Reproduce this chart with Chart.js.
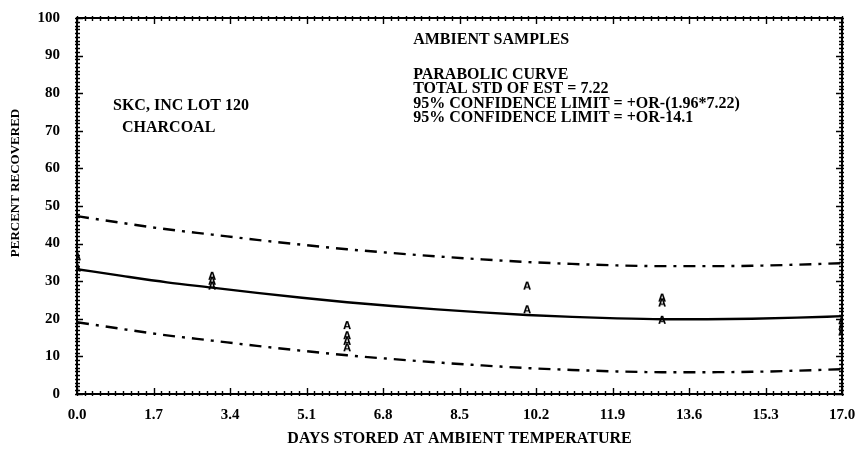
<!DOCTYPE html>
<html>
<head>
<meta charset="utf-8">
<script src="https://cdn.jsdelivr.net/npm/chart.js@4/dist/chart.umd.min.js"></script>
<style>
  html, body { margin: 0; padding: 0; background: #fff; }
  #wrap { width: 861px; height: 453px; }
</style>
</head>
<body>
<div id="wrap"><canvas id="c" width="861" height="453"></canvas></div>
<script>
// Days stored and the fitted parabolic recovery curve
const curveDays      = [0, 1, 2, 3, 4, 5, 6, 7, 8, 9, 10, 11, 12, 13, 14, 15, 16, 17];
const fittedRecovery = [33.2, 31.4, 29.7, 28.3, 26.9, 25.6, 24.4, 23.4, 22.5, 21.7, 21.0, 20.5, 20.1, 19.9, 19.9, 20.0, 20.3, 20.7];
// 95% confidence limits (fit +/- 14.1)
const upperLimit     = [47.3, 45.5, 43.8, 42.4, 41.0, 39.7, 38.5, 37.5, 36.6, 35.8, 35.1, 34.6, 34.2, 34.0, 34.0, 34.1, 34.4, 34.8];
const lowerLimit     = [19.1, 17.3, 15.6, 14.2, 12.8, 11.5, 10.3, 9.3, 8.4, 7.6, 6.9, 6.4, 6.0, 5.8, 5.8, 5.9, 6.2, 6.6];
// Individual ambient samples
const sampleDays     = [0, 0, 3, 3, 3, 6, 6, 6, 6, 10, 10, 13, 13, 13, 17, 17, 17];
const sampleRecovery = [36.5, 33.5, 31.3, 30.0, 28.7, 18.2, 15.5, 14.0, 12.3, 28.7, 22.4, 25.5, 24.2, 19.6, 19.5, 18.0, 16.5];
// Axis tick labels
const xTickValues = [0, 1.7, 3.4, 5.1, 6.8, 8.5, 10.2, 11.9, 13.6, 15.3, 17.0];
const yTickValues = [0, 10, 20, 30, 40, 50, 60, 70, 80, 90, 100];
// Text blocks inside the plot
const sampleNote  = ['SKC, INC LOT 120', 'CHARCOAL'];
const titleNote   = ['AMBIENT SAMPLES'];
const fitNote     = ['PARABOLIC CURVE', 'TOTAL STD OF EST = 7.22', '95% CONFIDENCE LIMIT = +OR-(1.96*7.22)', '95% CONFIDENCE LIMIT = +OR-14.1'];
const xTitle = 'DAYS STORED AT AMBIENT TEMPERATURE';
const yTitle = 'PERCENT RECOVERED';

const SERIF = '"Liberation Serif", "Times New Roman", serif';
const INK = '#000';

// Small letter "A" used as the sample marker
function letterMarker() {
  const c = document.createElement('canvas');
  c.width = 10; c.height = 11;
  const g = c.getContext('2d');
  g.fillStyle = INK;
  g.font = 'bold 10px "DejaVu Sans", sans-serif';
  g.textAlign = 'center';
  g.textBaseline = 'middle';
  g.fillText('A', 5, 6);
  return c;
}

const toXY = (xs, ys) => xs.map((x, i) => ({ x, y: ys[i] }));

// Frame, ticks, axis title and notes
const decorations = {
  id: 'decorations',
  afterDraw(chart) {
    const { ctx, chartArea: a, scales: { x, y } } = chart;
    ctx.save();
    ctx.strokeStyle = INK;
    ctx.lineWidth = 2;
    ctx.strokeRect(a.left, a.top, a.right - a.left, a.bottom - a.top);

    ctx.lineWidth = 1.4;
    ctx.beginPath();
    for (let v = 0; v <= 100; v += 1) {
      const py = Math.round(y.getPixelForValue(v)) + 0.5;
      const major = v % 10 === 0;
      const len = major ? 6 : 3;
      ctx.moveTo(a.left - 2, py); ctx.lineTo(a.left + len, py);
      ctx.moveTo(a.right + 2, py); ctx.lineTo(a.right - len, py);
    }
    for (let k = 0; k <= 100; k++) {
      const v = k * 0.17;
      const px = Math.round(x.getPixelForValue(v)) + 0.5;
      const major = k % 10 === 0;
      const len = major ? 6 : 3;
      ctx.moveTo(px, a.bottom + 2); ctx.lineTo(px, a.bottom - len);
      ctx.moveTo(px, a.top - 2); ctx.lineTo(px, a.top + len);
    }
    ctx.stroke();

    ctx.fillStyle = INK;
    // y-axis title
    ctx.save();
    ctx.translate(16, 183);
    ctx.rotate(-Math.PI / 2);
    ctx.font = 'bold 13px ' + SERIF;
    ctx.textAlign = 'center';
    ctx.textBaseline = 'middle';
    ctx.fillText(yTitle, 0, 0);
    ctx.restore();

    // notes, anchored in data units
    ctx.font = 'bold 16px ' + SERIF;
    ctx.textAlign = 'left';
    ctx.textBaseline = 'middle';
    const put = (lines, dx, dy, step, indent) => {
      lines.forEach((t, i) => {
        ctx.fillText(t, x.getPixelForValue(dx) + (indent ? indent[i] : 0), y.getPixelForValue(dy) + i * step);
      });
    };
    put(sampleNote, 0.8, 76.6, 22, [0, 9]);
    put(titleNote, 7.47, 94.2, 0);
    put(fitNote, 7.47, 85.0, 14.6);
    ctx.restore();
  }
};

new Chart(document.getElementById('c'), {
  type: 'line',
  data: {
    datasets: [
      { data: toXY(curveDays, fittedRecovery), borderColor: INK, borderWidth: 2.4, pointRadius: 0, cubicInterpolationMode: 'monotone' },
      { data: toXY(curveDays, upperLimit), borderColor: INK, borderWidth: 2.4, borderDash: [12, 7, 3, 7], pointRadius: 0, cubicInterpolationMode: 'monotone' },
      { data: toXY(curveDays, lowerLimit), borderColor: INK, borderWidth: 2.4, borderDash: [12, 7, 3, 7], pointRadius: 0, cubicInterpolationMode: 'monotone' },
      { type: 'scatter', data: toXY(sampleDays, sampleRecovery), showLine: false, pointStyle: letterMarker(), pointRadius: 5 }
    ]
  },
  options: {
    responsive: false,
    animation: false,
    events: [],
    layout: { padding: { top: 14, right: 19, left: 0, bottom: 0 } },
    plugins: { legend: { display: false }, tooltip: { enabled: false } },
    scales: {
      x: {
        type: 'linear', min: 0, max: 17,
        afterBuildTicks: s => { s.ticks = xTickValues.map(v => ({ value: v })); },
        afterFit: s => { s.height = 59; },
        grid: { display: false }, border: { display: false },
        ticks: { color: INK, padding: 4, maxRotation: 0, autoSkip: false, font: { family: SERIF, size: 15, weight: 'bold' }, callback: v => v.toFixed(1) },
        title: { display: true, text: xTitle, color: INK, font: { family: SERIF, size: 16, weight: 'bold' }, padding: { bottom: 5 } }
      },
      y: {
        type: 'linear', min: 0, max: 100,
        afterBuildTicks: s => { s.ticks = yTickValues.map(v => ({ value: v })); },
        afterFit: s => { s.width = 77; },
        grid: { display: false }, border: { display: false },
        ticks: { color: INK, padding: 9, font: { family: SERIF, size: 15, weight: 'bold' } }
      }
    }
  },
  plugins: [decorations]
});
</script>
</body>
</html>
